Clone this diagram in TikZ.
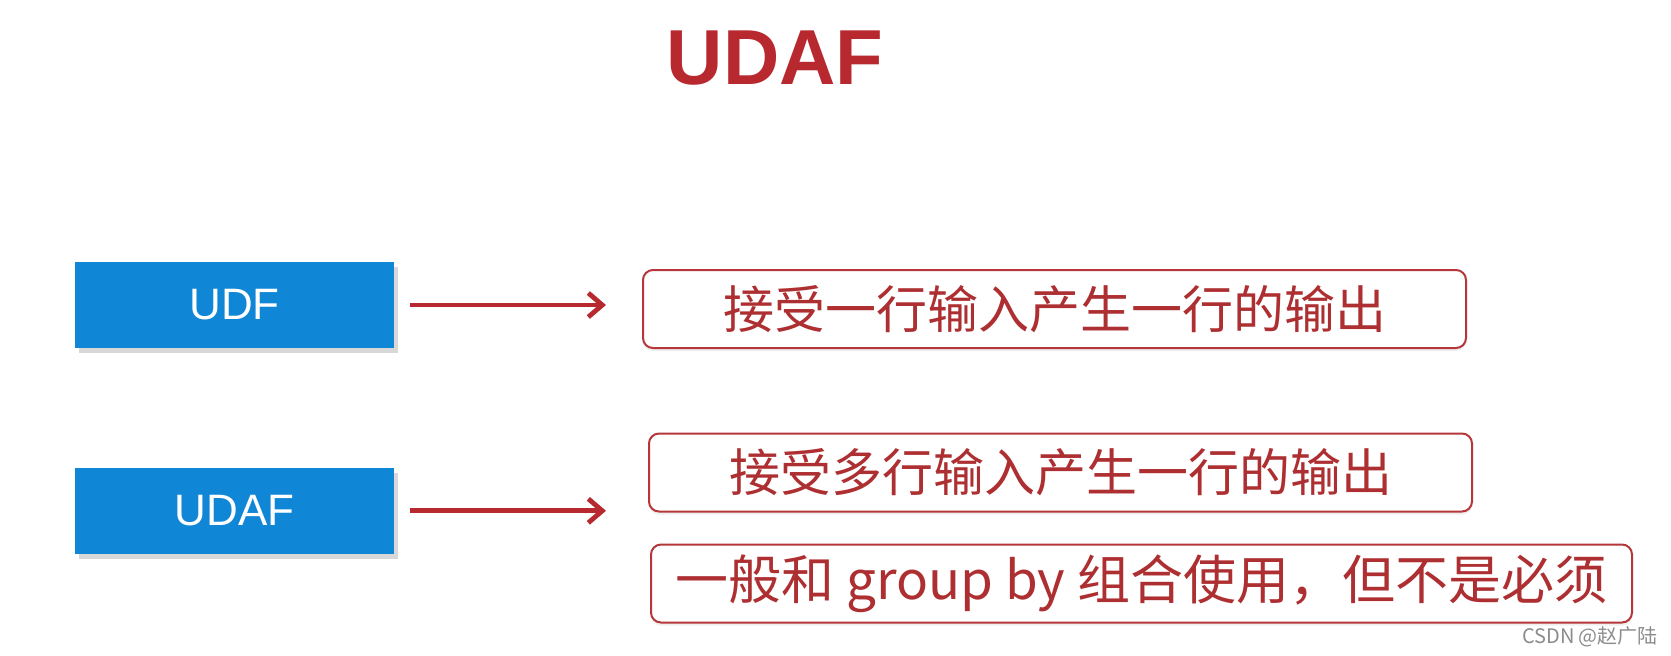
\documentclass[tikz,border=0pt]{standalone}
\usepackage{fontspec}
\setmainfont{Liberation Sans}
\newfontfamily\cjk{Noto Sans CJK SC}
\usetikzlibrary{arrows.meta,positioning,shadows}
\definecolor{TitleRed}{HTML}{B8292F}
\definecolor{TextRed}{HTML}{AE2F31}
\definecolor{EdgeRed}{HTML}{B5373A}
\definecolor{BoxBlue}{HTML}{1086D6}
\definecolor{MarkGray}{HTML}{8C8C8C}

\begin{document}
\begin{tikzpicture}[x=0.5pt, y=-0.5pt,
  fnbox/.style={fill=BoxBlue, minimum width=159.5pt, minimum height=43pt,
                text=white, font=\fontsize{22}{26}\selectfont,
                drop shadow={shadow xshift=2pt, shadow yshift=-2.5pt, opacity=0.3}},
  ansbox/.style={draw=EdgeRed, line width=1pt, rounded corners=5pt, fill=white,
                 minimum width=411.5pt, minimum height=39pt,
                 text=TextRed, font=\cjk\fontsize{25.5}{30}\selectfont,
                 drop shadow={shadow xshift=0pt, shadow yshift=-1.5pt, opacity=0.12}},
  flow/.style={draw=TitleRed, line width=2.4pt,
               -{Straight Barb[length=7pt, width=12pt, line width=2.4pt]}},
  node distance=59.5pt
]
  \useasboundingbox[fill=white] (0,0) rectangle (1671,655);

  \node[font=\bfseries\fontsize{39}{45}\selectfont, text=TitleRed] (title) at (775,58) {UDAF};

  % left column
  \node[fnbox] (udf) at (234.5,305) {UDF};
  \node[fnbox, below=of udf] (udaf) {UDAF};

  % right column
  \node[ansbox] (ans1) at (1054.5,309) {接受一行输入产生一行的输出};
  \node[ansbox] (ans2) at (1060.5,472.5) {接受多行输入产生一行的输出};
  \node[ansbox, minimum width=490.5pt, font=\cjk\fontsize{26.5}{30}\selectfont,
        below right=15.5pt and 1pt of ans2.south west]
    (ans3) {一般和 group by 组合使用，但不是必须};

  \draw[flow, shorten <=8pt, shorten >=18pt] (udf.east) -- (udf.east -| ans1.west);
  \draw[flow, shorten <=8pt, shorten >=21pt] (udaf.east) -- (udaf.east -| ans2.west);

  \node[text=MarkGray, font=\cjk\fontsize{10}{12}\selectfont] (mark) at (1590,637) {CSDN @赵广陆};
\end{tikzpicture}
\end{document}
